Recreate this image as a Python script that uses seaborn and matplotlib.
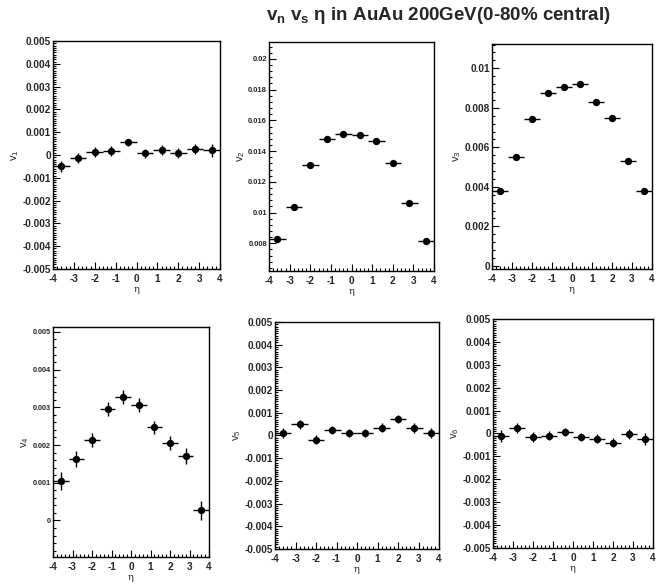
import numpy as np
import pandas as pd
import seaborn as sns
import matplotlib.pyplot as plt
from matplotlib.ticker import MultipleLocator, AutoMinorLocator, FuncFormatter

# eta bin centres (bins of width 0.8 from -4 to 4)
eta = [-3.6, -2.8, -2.0, -1.2, -0.4, 0.4, 1.2, 2.0, 2.8, 3.6]
eta_half_width = 0.4

v1 = [-0.00050, -0.00015, 0.00012, 0.00018, 0.00055, 0.00008, 0.00023, 0.00010, 0.00026, 0.00020]
v1_err = [0.00025, 0.00022, 0.00022, 0.00022, 0.00015, 0.00020, 0.00022, 0.00022, 0.00022, 0.00028]
v2 = [0.00830, 0.01035, 0.01312, 0.01480, 0.01512, 0.01506, 0.01466, 0.01323, 0.01060, 0.00815]
v2_err = [0.00010, 0.00008, 0.00006, 0.00006, 0.00006, 0.00006, 0.00006, 0.00006, 0.00008, 0.00010]
v3 = [0.00380, 0.00550, 0.00743, 0.00876, 0.00905, 0.00918, 0.00828, 0.00750, 0.00530, 0.00378]
v3_err = [0.00015, 0.00012, 0.00012, 0.00012, 0.00012, 0.00012, 0.00012, 0.00013, 0.00013, 0.00015]
v4 = [0.00104, 0.00163, 0.00214, 0.00296, 0.00327, 0.00306, 0.00247, 0.00206, 0.00171, 0.00027]
v4_err = [0.00024, 0.00020, 0.00019, 0.00018, 0.00018, 0.00018, 0.00018, 0.00019, 0.00021, 0.00025]
v5 = [0.00010, 0.00050, -0.00018, 0.00025, 0.00010, 0.00010, 0.00035, 0.00073, 0.00033, 0.00012]
v5_err = [0.00022, 0.00020, 0.00019, 0.00018, 0.00017, 0.00017, 0.00018, 0.00019, 0.00020, 0.00023]
v6 = [-0.00010, 0.00025, -0.00015, -0.00010, 0.00005, -0.00015, -0.00022, -0.00040, -0.00003, -0.00025]
v6_err = [0.00025, 0.00022, 0.00020, 0.00019, 0.00018, 0.00018, 0.00019, 0.00020, 0.00022, 0.00026]

harmonics = ["1", "2", "3", "4", "5", "6"]
values = [v1, v2, v3, v4, v5, v6]
errors = [v1_err, v2_err, v3_err, v4_err, v5_err, v6_err]
ylims = [(-0.005, 0.005), (0.0062, 0.0211), (-0.00016, 0.01123),
         (-0.00097, 0.00513), (-0.005, 0.005), (-0.005, 0.005)]
ymajor = [0.001, 0.002, 0.002, 0.001, 0.001, 0.001]
yminor_div = [10, 5, 5, 5, 10, 10]
ylabel_size = [7.2, 5.4, 7.2, 5.2, 7.2, 7.2]

sns.set_style("ticks")
plt.rcParams['font.family'] = ['Liberation Sans', 'DejaVu Sans']
plt.rcParams['axes.unicode_minus'] = False
plt.rcParams['mathtext.fontset'] = 'custom'
plt.rcParams['mathtext.rm'] = 'Liberation Sans:bold'
plt.rcParams['mathtext.it'] = 'Liberation Sans:bold'
plt.rcParams['mathtext.bf'] = 'Liberation Sans:bold'

W, H = 672, 587
fig = plt.figure(figsize=(W / 100, H / 100), dpi=100)

# axes boxes in pixels: left, top, right, bottom
boxes = [(53, 41, 220, 269), (269, 42, 434, 271), (492, 44, 652, 269),
         (53, 327, 209, 557), (275, 322, 439, 549), (493, 319, 653, 548)]

fmt = FuncFormatter(lambda v, p: "0" if abs(v) < 1e-9 else f"{round(v, 6):g}")

for i in range(6):
    l, t, r, b = boxes[i]
    ax = fig.add_axes([l / W, 1 - b / H, (r - l) / W, (b - t) / H])
    df = pd.DataFrame({"eta": eta, "v": values[i]})
    ax.errorbar(df["eta"], df["v"], xerr=eta_half_width, yerr=errors[i],
                fmt="none", ecolor="black", elinewidth=1.0, capsize=0, zorder=2)
    sns.scatterplot(data=df, x="eta", y="v", ax=ax, color="black", s=28,
                    edgecolor="black", linewidth=0, zorder=3, legend=False)
    ax.set_xlim(-4, 4)
    ax.set_ylim(*ylims[i])
    ax.xaxis.set_major_locator(MultipleLocator(1))
    ax.xaxis.set_minor_locator(MultipleLocator(0.2))
    ax.yaxis.set_major_locator(MultipleLocator(ymajor[i]))
    ax.yaxis.set_minor_locator(AutoMinorLocator(yminor_div[i]))
    ax.yaxis.set_major_formatter(fmt)
    ax.xaxis.set_major_formatter(FuncFormatter(lambda v, p: f"{int(round(v))}"))
    ax.tick_params(which="both", direction="in", top=False, right=False,
                   width=0.8, color="black")
    ax.tick_params(which="major", length=5)
    ax.tick_params(which="minor", length=2.5)
    ax.tick_params(axis="x", labelsize=7.2, pad=3.5)
    ax.tick_params(axis="y", labelsize=ylabel_size[i], pad=1.5)
    for lab in ax.get_xticklabels() + ax.get_yticklabels():
        lab.set_fontweight("bold")
    for sp in ax.spines.values():
        sp.set_visible(True)
        sp.set_linewidth(1.0)
        sp.set_color("black")
    ax.set_xlabel("η", fontsize=7, family="DejaVu Serif", labelpad=1)
    ax.set_ylabel(f"$\\mathregular{{v_{harmonics[i]}}}$", fontsize=8, labelpad=1)

fig.text(438 / W, 1 - 16 / H, r"$\mathregular{v_n}$ $\mathregular{v_s}$ η in AuAu 200GeV(0-80% central)",
         ha="center", va="center", fontsize=13.5, fontweight="bold")

fig.savefig("out.png", dpi=100)
